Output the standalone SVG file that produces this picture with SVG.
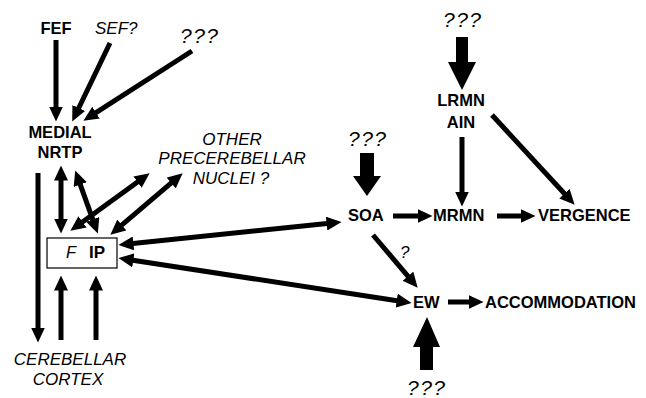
<svg xmlns="http://www.w3.org/2000/svg" width="646" height="398" viewBox="0 0 646 398">
  <style>
    text { font-family: "Liberation Sans", Arial, Helvetica, sans-serif; fill: #000; }
    .b { font-weight: bold; font-size: 16.5px; }
    .i { font-style: italic; font-size: 17px; }
    .q { font-style: italic; font-size: 21px; letter-spacing: 1.5px; }
    .c { text-anchor: middle; }
    .ar { fill: none; stroke: #000; stroke-width: 5; marker-end: url(#head); }
    .bi { marker-start: url(#head); }
    .fat { fill: #000; }
  </style>
  <defs>
    <marker id="head" viewBox="0 0 3 2.8" refX="0.1" refY="1.4" markerWidth="3" markerHeight="2.8" orient="auto-start-reverse">
      <path d="M0,0 L3,1.4 L0,2.8 z" fill="#000"/>
    </marker>
  </defs>
  <rect width="646" height="398" fill="#fff"/>

  <g id="fef"><text class="b c" x="56" y="34">FEF</text></g>
  <g id="sef"><text class="i" x="95" y="34">SEF?</text></g>
  <g id="unknown-nrtp"><text class="q" x="180" y="43">???</text></g>
  <g id="medial-nrtp">
    <text class="b c" x="60" y="138">MEDIAL</text>
    <text class="b c" x="60" y="158">NRTP</text>
  </g>
  <g id="other-precerebellar">
    <text class="i c" x="232" y="145">OTHER</text>
    <text class="i c" x="232" y="164">PRECEREBELLAR</text>
    <text class="i c" x="231" y="184">NUCLEI ?</text>
  </g>
  <g id="f-ip">
    <rect x="47" y="238" width="70" height="30" fill="#fff" stroke="#000" stroke-width="1.2"/>
    <text x="66" y="258" style="font-style:italic;font-size:16.5px">F</text>
    <text class="b" x="89" y="258" style="font-size:17px">IP</text>
  </g>
  <g id="cerebellar-cortex">
    <text class="i c" x="70" y="365">CEREBELLAR</text>
    <text class="i c" x="68" y="385">CORTEX</text>
  </g>
  <g id="unknown-soa"><text class="q" x="348" y="146">???</text></g>
  <g id="soa"><text class="b" x="348" y="221">SOA</text></g>
  <g id="unknown-lrmn"><text class="q" x="443" y="27">???</text></g>
  <g id="lrmn-ain">
    <text class="b c" x="461" y="106">LRMN</text>
    <text class="b c" x="461" y="128">AIN</text>
  </g>
  <g id="mrmn"><text class="b" x="433" y="221">MRMN</text></g>
  <g id="vergence"><text class="b" x="538" y="221">VERGENCE</text></g>
  <g id="ew"><text class="b" x="413" y="308">EW</text></g>
  <g id="accommodation"><text class="b" x="485" y="308">ACCOMMODATION</text></g>
  <g id="unknown-ew"><text class="q" x="407" y="395">???</text></g>

  <g id="connectors">
    <line class="ar" x1="56" y1="40" x2="56" y2="107"/>
    <line class="ar" x1="110" y1="43" x2="78.5" y2="108.5"/>
    <line class="ar" x1="192" y1="51" x2="95.6" y2="112.9"/>
    <line class="ar" x1="38" y1="173" x2="38" y2="328"/>
    <line class="ar bi" x1="61" y1="180" x2="61" y2="219"/>
    <line class="ar bi" x1="80.1" y1="184.1" x2="92.9" y2="219.9"/>
    <line class="ar bi" x1="82.1" y1="222.2" x2="137.9" y2="181.8"/>
    <line class="ar bi" x1="121.4" y1="225.3" x2="171.6" y2="182.7"/>
    <line class="ar bi" x1="132.9" y1="243.5" x2="327.1" y2="223.5"/>
    <line class="ar bi" x1="132.8" y1="260.3" x2="397.2" y2="300.7"/>
    <line class="ar" x1="61" y1="340" x2="61" y2="290"/>
    <line class="ar" x1="96" y1="340" x2="96" y2="290"/>
    <line class="ar" x1="393" y1="216" x2="418" y2="216"/>
    <line class="ar" x1="497" y1="216" x2="521" y2="216"/>
    <line class="ar" x1="462" y1="137" x2="462" y2="192"/>
    <line class="ar" x1="492" y1="115" x2="564.8" y2="194"/>
    <line class="ar" x1="373" y1="235" x2="408.3" y2="276.6"/>
    <text class="i" x="400" y="258">?</text>
    <line class="ar" x1="448" y1="302" x2="469" y2="302"/>
    <!-- heavy arrows from the unspecified inputs -->
    <polygon class="fat" points="456,37 468,37 468,62 476,62 462,90 448,62 456,62"/>
    <polygon class="fat" points="360,153 374,153 374,176 381,176 367,196 353,176 360,176"/>
    <polygon class="fat" points="420,370 433,370 433,347 440,347 427,317 413,347 420,347"/>
  </g>
</svg>
